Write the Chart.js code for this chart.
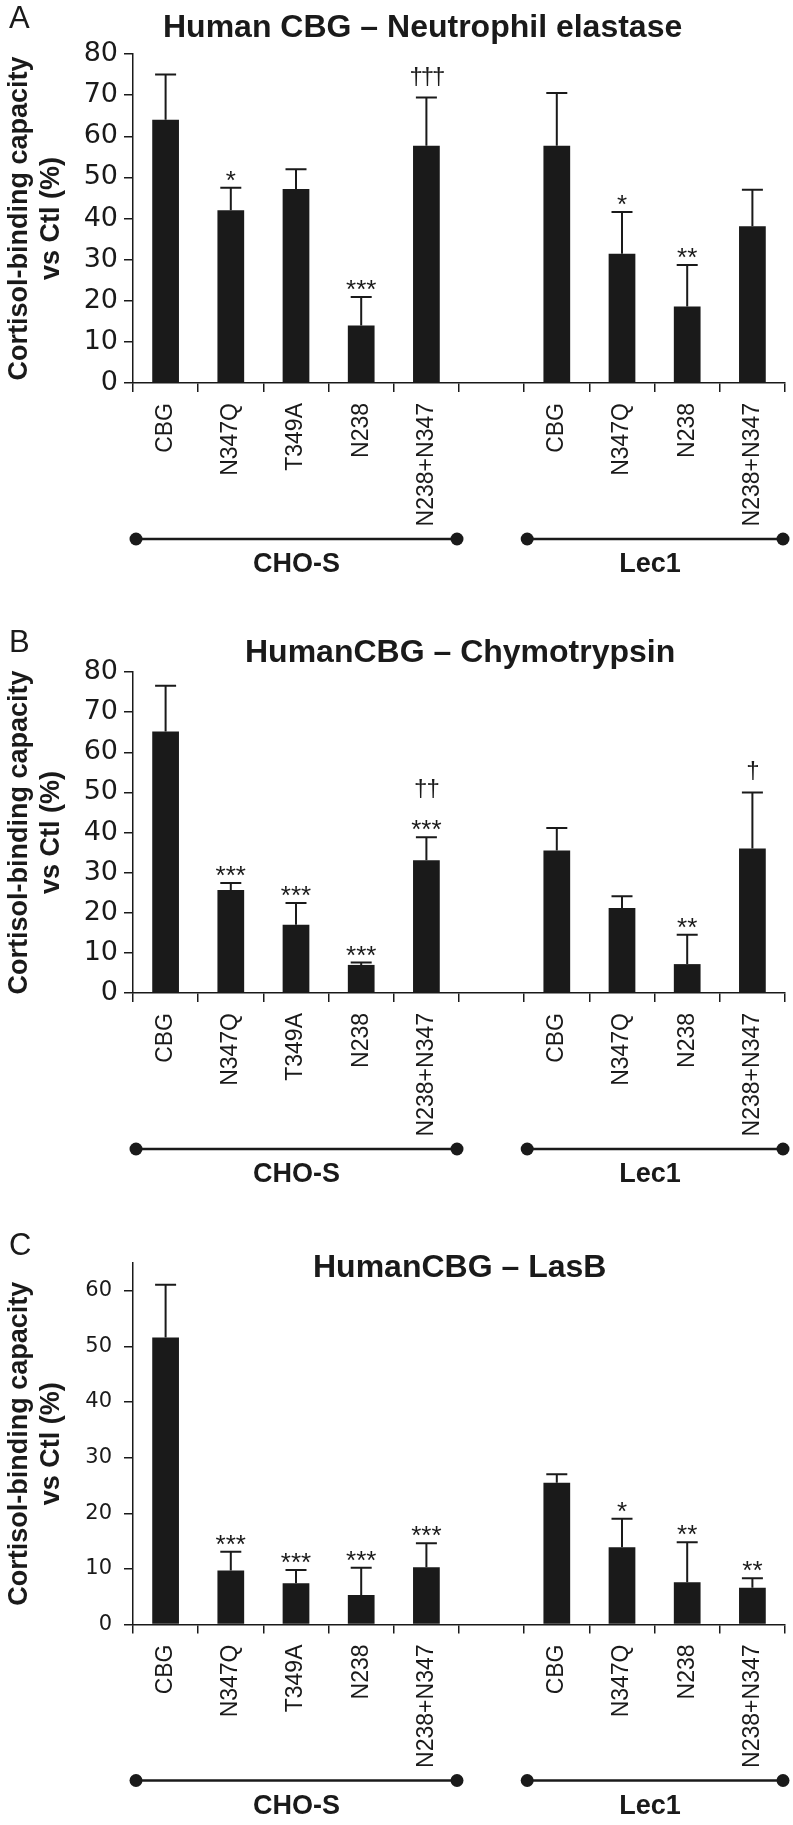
<!DOCTYPE html>
<html>
<head>
<meta charset="utf-8">
<script src="https://cdn.jsdelivr.net/npm/chart.js@4.4.0/dist/chart.umd.min.js"></script>
<style>
  html, body { margin: 0; padding: 0; background: #fff; }
  #pagina { position: relative; width: 793px; height: 1825px; }
  .painel { position: absolute; left: 0; width: 793px; }
</style>
</head>
<body>
<div id="pagina">
  <div class="painel" style="top:0;height:600px"><canvas id="graficoA"></canvas></div>
  <div class="painel" style="top:600px;height:610px"><canvas id="graficoB"></canvas></div>
  <div class="painel" style="top:1210px;height:615px"><canvas id="graficoC"></canvas></div>
</div>
<script>
// categorias (a 6a posicao e o espaco entre CHO-S e Lec1)
const categorias = ['CBG', 'N347Q', 'T349A', 'N238', 'N238+N347', '', 'CBG', 'N347Q', 'N238', 'N238+N347'];
const grupos = ['CHO-S', 'Lec1'];
const limitesGrupos = [[0, 5], [6, 10]];

// A - Neutrophil elastase
const mediaA = [64, 42, 47.2, 14, 57.7, null, 57.7, 31.4, 18.6, 38.1];
const erroA = [11, 5.5, 4.8, 6.9, 11.7, null, 12.8, 10.2, 10.1, 8.9];
const estrelasA = ['', '*', '', '***', '', '', '', '*', '**', ''];
const cruzesA = ['', '', '', '', '†††', '', '', '', '', ''];
const ticksA = [0, 10, 20, 30, 40, 50, 60, 70, 80];

// B - Chymotrypsin
const mediaB = [65.2, 25.7, 17.0, 7.0, 33.1, null, 35.5, 21.2, 7.2, 36.0];
const erroB = [11.4, 1.7, 5.4, 0.6, 5.7, null, 5.6, 2.9, 7.3, 14];
const estrelasB = ['', '***', '***', '***', '***', '', '', '', '**', ''];
const cruzesB = ['', '', '', '', '††', '', '', '', '', '†'];
const ticksB = [0, 10, 20, 30, 40, 50, 60, 70, 80];

// C - LasB
const mediaC = [51.6, 9.7, 7.4, 5.3, 10.3, null, 25.5, 13.9, 7.6, 6.6];
const erroC = [9.5, 3.4, 2.4, 4.9, 4.3, null, 1.5, 5.1, 7.2, 1.7];
const estrelasC = ['', '***', '***', '***', '***', '', '', '*', '**', '**'];
const cruzesC = ['', '', '', '', '', '', '', '', '', ''];
const ticksC = [0, 10, 20, 30, 40, 50, 60];

const tinta = '#1a1a1a';
const fonteTexto = '"Liberation Sans", Arial, sans-serif';

function criarExtras(letra, titulo, tituloX, tituloY, letraY, medias, erros, estrelas, cruzes, espacoCruz) {
  return {
    id: 'extras' + letra,
    afterDatasetsDraw(chart) {
      const ctx = chart.ctx;
      const xs = chart.scales.x;
      const ys = chart.scales.y;
      const meta = chart.getDatasetMeta(0);
      ctx.save();
      ctx.strokeStyle = tinta;
      ctx.fillStyle = tinta;
      ctx.lineWidth = 2;
      ctx.textAlign = 'center';
      ctx.textBaseline = 'alphabetic';
      medias.forEach((m, i) => {
        if (m === null) return;
        const bx = meta.data[i].x;
        const yb = meta.data[i].y;
        const yt = ys.getPixelForValue(m + erros[i]);
        ctx.beginPath();
        ctx.moveTo(bx, yb);
        ctx.lineTo(bx, yt);
        ctx.moveTo(bx - 10.5, yt);
        ctx.lineTo(bx + 10.5, yt);
        ctx.stroke();
        if (estrelas[i]) {
          ctx.font = '26px ' + fonteTexto;
          ctx.fillText(estrelas[i], bx, yt + 1);
        }
        if (cruzes[i]) {
          ctx.font = '24px ' + fonteTexto;
          ctx.letterSpacing = espacoCruz + 'px';
          ctx.fillText(cruzes[i], bx, estrelas[i] ? yt - 41 : yt - 14);
          ctx.letterSpacing = '0px';
        }
      });

      // linhas dos grupos CHO-S / Lec1
      const meio = (xs.getPixelForValue(1) - xs.getPixelForValue(0)) / 2;
      const yLinha = chart.chartArea.bottom + 156;
      limitesGrupos.forEach((lim, g) => {
        const x0 = xs.getPixelForValue(lim[0]) - meio + 3;
        const x1 = xs.getPixelForValue(lim[1] - 1) + meio - 2;
        ctx.lineWidth = 2.5;
        ctx.beginPath();
        ctx.moveTo(x0, yLinha);
        ctx.lineTo(x1, yLinha);
        ctx.stroke();
        [x0, x1].forEach(px => {
          ctx.beginPath();
          ctx.arc(px, yLinha, 6.5, 0, Math.PI * 2);
          ctx.fill();
        });
        ctx.font = 'bold 27px ' + fonteTexto;
        ctx.fillText(grupos[g], (x0 + x1) / 2 - (g === 1 ? 5 : 0), chart.chartArea.bottom + 189);
      });

      // letra do painel e titulo
      ctx.textAlign = 'left';
      ctx.font = '31px ' + fonteTexto;
      ctx.fillText(letra, 9, letraY);
      ctx.font = 'bold 32px ' + fonteTexto;
      ctx.fillText(titulo, tituloX, tituloY);
      ctx.restore();
    }
  };
}

function criarGrafico(id, letra, titulo, tituloX, tituloY, letraY, medias, erros, estrelas, cruzes, ticks, maximo, topo, alturaX, fonteTick, padTick, espacoCruz) {
  const ctx = document.getElementById(id).getContext('2d');
  return new Chart(ctx, {
    type: 'bar',
    data: {
      labels: categorias,
      datasets: [{
        data: medias,
        backgroundColor: tinta,
        borderWidth: 0,
        barPercentage: 0.41,
        categoryPercentage: 1.0
      }]
    },
    options: {
      responsive: true,
      maintainAspectRatio: false,
      animation: false,
      layout: { padding: { top: topo, right: 8, bottom: 0, left: 0 } },
      scales: {
        x: {
          grid: { drawOnChartArea: false, drawTicks: true, tickLength: 9, offset: true, color: tinta, lineWidth: 1.5 },
          border: { display: true, color: tinta, width: 1.5 },
          ticks: {
            autoSkip: false, maxRotation: 90, minRotation: 90, padding: 11,
            color: tinta, font: { family: fonteTexto, size: 23 }
          },
          afterFit: s => { s.height = alturaX; }
        },
        y: {
          min: 0,
          max: maximo,
          grid: { drawOnChartArea: false, drawTicks: true, tickLength: 9, color: tinta, lineWidth: 1.5 },
          border: { display: true, color: tinta, width: 1.5 },
          ticks: {
            padding: padTick, color: tinta,
            font: { family: '"DejaVu Sans", sans-serif', size: fonteTick }
          },
          afterBuildTicks: s => { s.ticks = ticks.map(v => ({ value: v })); },
          title: {
            display: true,
            text: ['Cortisol-binding capacity', 'vs Ctl (%)'],
            color: tinta,
            font: { family: fonteTexto, size: 27, weight: 'bold', lineHeight: 1.15 },
            padding: { top: 4.5, bottom: 0 }
          },
          afterFit: s => { s.width = 133; }
        }
      },
      plugins: {
        legend: { display: false },
        tooltip: { enabled: false }
      }
    },
    plugins: [criarExtras(letra, titulo, tituloX, tituloY, letraY, medias, erros, estrelas, cruzes, espacoCruz)]
  });
}

criarGrafico('graficoA', 'A', 'Human CBG \u2013 Neutrophil elastase', 163, 37, 28,
  mediaA, erroA, estrelasA, cruzesA, ticksA, 80, 54, 217, 27, 6, -2);
criarGrafico('graficoB', 'B', 'HumanCBG \u2013 Chymotrypsin', 245, 62, 52,
  mediaB, erroB, estrelasB, cruzesB, ticksB, 80, 72, 217, 27, 6, -1);
criarGrafico('graficoC', 'C', 'HumanCBG \u2013 LasB', 313, 67, 45,
  mediaC, erroC, estrelasC, cruzesC, ticksC, 65, 53, 200.5, 21, 12, -1);
</script>
</body>
</html>
